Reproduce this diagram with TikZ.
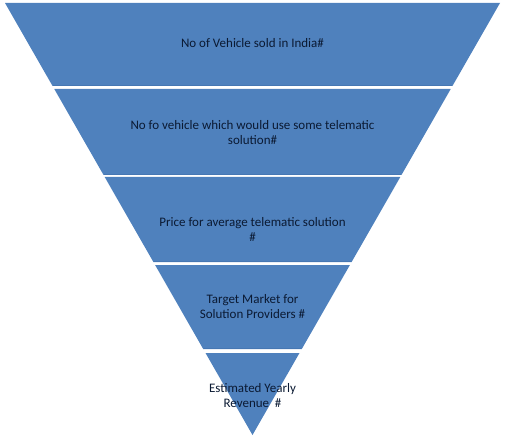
\documentclass[tikz,border=0pt]{standalone}
\usepackage{fontspec}
\setmainfont{Carlito}
\usetikzlibrary{positioning}

\definecolor{funnelblue}{HTML}{4F81BD}
\definecolor{funneledge}{HTML}{4677B3}
\definecolor{labeltext}{HTML}{0B1A33}

\begin{document}
\begin{tikzpicture}[x=1pt, y=-1pt,
    band/.style={fill=funnelblue},
    bandedge/.style={draw=funneledge, line width=1.2pt},
    label/.style={font=\fontsize{13}{15}\selectfont, align=center,
                  text=labeltext, inner sep=0pt}]
  \useasboundingbox (0,0) rectangle (520,441);

  % Funnel bands
  \fill[band] (5,3) -- (500,3) -- (452.45,86) -- (52.55,86) -- cycle;
  \draw[bandedge] (53.2,85.4) -- (451.8,85.4);
  \fill[band] (54.27,89) -- (450.73,89) -- (401.46,175) -- (103.54,175) -- cycle;
  \draw[bandedge] (104.2,174.4) -- (400.8,174.4);
  \fill[band] (104.68,177) -- (400.32,177) -- (351.62,262) -- (153.38,262) -- cycle;
  \draw[bandedge] (154,261.4) -- (351,261.4);
  \fill[band] (155.1,265) -- (349.9,265) -- (301.8,349) -- (203.2,349) -- cycle;
  \draw[bandedge] (203.8,348.4) -- (301.2,348.4);
  \fill[band] (205.5,353) -- (299.5,353) -- (252.5,435) -- cycle;

  % Band labels
  \node[label] (sold) at (252.5,43.5) {No of Vehicle sold in India\#};
  \node[label] (users) at (252.5,132.5) {No fo vehicle which would use some telematic\\solution\#};
  \node[label] (price) at (252.5,229.5) {Price for average telematic solution\\\#};
  \node[label] (target) at (252.5,306.5) {Target Market for\\Solution Providers \#};
  \node[label] (revenue) at (252.5,395.5) {Estimated Yearly\\Revenue~ \#};
\end{tikzpicture}
\end{document}
